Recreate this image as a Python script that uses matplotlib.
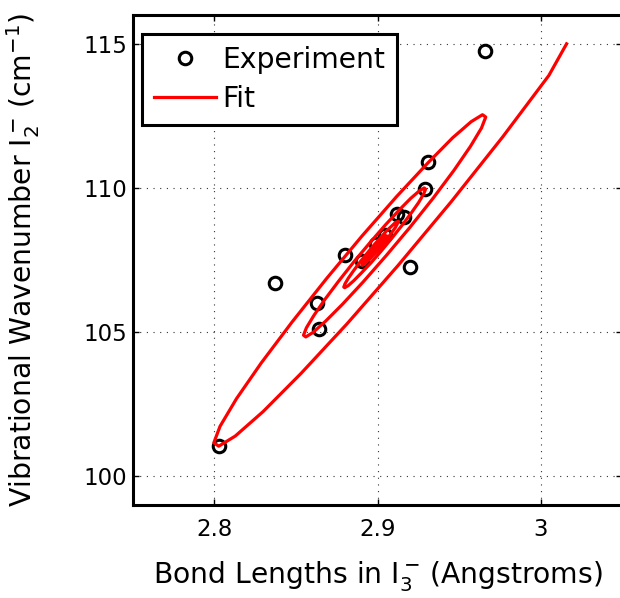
import matplotlib
matplotlib.use("Agg")
import matplotlib.pyplot as plt

# measured bond lengths (Angstroms) and I2- wavenumbers (cm^-1)
bond_length = [2.966, 2.931, 2.929, 2.912, 2.916, 2.9045, 2.899, 2.880,
               2.8905, 2.9198, 2.837, 2.863, 2.864, 2.803]
wavenumber = [114.76, 110.90, 109.95, 109.09, 108.99, 108.37, 108.05, 107.68,
              107.46, 107.24, 106.71, 106.02, 105.09, 101.06]

# fitted trajectory, spiralling in towards (2.90, 107.9)
fit_x = [3.0160, 3.0051, 2.9768, 2.9452, 2.9126, 2.8812, 2.8530, 2.8298, 2.8127, 2.8026,
         2.7996, 2.8034, 2.8135, 2.8287, 2.8476, 2.8688, 2.8906, 2.9117, 2.9306, 2.9461,
         2.9575, 2.9644, 2.9664, 2.9638, 2.9570, 2.9469, 2.9342, 2.9200, 2.9053, 2.8912,
         2.8786, 2.8682, 2.8605, 2.8560, 2.8546, 2.8564, 2.8609, 2.8677, 2.8762, 2.8857,
         2.8955, 2.9049, 2.9134, 2.9204, 2.9255, 2.9286, 2.9295, 2.9283, 2.9253, 2.9207,
         2.9150, 2.9087, 2.9021, 2.8958, 2.8901, 2.8854, 2.8820, 2.8799, 2.8793, 2.8801,
         2.8821, 2.8852, 2.8890, 2.8933, 2.8977, 2.9019, 2.9057, 2.9112, 2.9129, 2.9110,
         2.9064, 2.9006, 2.8952, 2.8916, 2.8904, 2.8917, 2.8948, 2.8987, 2.9023, 2.9047,
         2.9055, 2.9047, 2.9026, 2.9000, 2.8976, 2.8959, 2.8954, 2.8960, 2.8973, 2.8991,
         2.9007, 2.9018, 2.9022, 2.9018, 2.9009, 2.8997, 2.8986, 2.8979, 2.8976]
fit_y = [115.00, 113.90, 111.77, 109.52, 107.31, 105.28, 103.56, 102.24, 101.39, 101.04,
         101.16, 101.73, 102.69, 103.93, 105.35, 106.86, 108.34, 109.70, 110.85, 111.74,
         112.30, 112.54, 112.46, 112.08, 111.44, 110.61, 109.65, 108.64, 107.65, 106.74,
         105.97, 105.38, 104.99, 104.83, 104.89, 105.15, 105.57, 106.13, 106.77, 107.45,
         108.11, 108.72, 109.24, 109.64, 109.89, 110.00, 109.96, 109.79, 109.50, 109.13,
         108.70, 108.25, 107.80, 107.39, 107.05, 106.78, 106.61, 106.54, 106.56, 106.68,
         106.87, 107.12, 107.41, 107.71, 108.01, 108.28, 108.52, 108.81, 108.84, 108.63,
         108.27, 107.87, 107.53, 107.34, 107.32, 107.45, 107.69, 107.96, 108.19, 108.32,
         108.34, 108.24, 108.08, 107.90, 107.75, 107.66, 107.65, 107.71, 107.82, 107.94,
         108.05, 108.10, 108.11, 108.07, 108.00, 107.92, 107.85, 107.81, 107.80]

x_ticks = [2.8, 2.9, 3.0]
x_ticklabels = ["2.8", "2.9", "3"]
y_ticks = [100, 105, 110, 115]

fig = plt.figure(figsize=(6.2, 5.98), dpi=100)
# right edge of the axes sits just past the figure edge
ax = fig.add_axes([133 / 620, 1 - 505 / 598, (622 - 133) / 620, (505 - 15) / 598])

ax.plot(bond_length, wavenumber, "o", mfc="none", mec="k", mew=2.2, ms=9, label="Experiment")
ax.plot(fit_x, fit_y, "-", color="red", lw=2.3, label="Fit")

ax.set_xlim(2.75, 3.05)
ax.set_ylim(99, 116)
ax.set_xticks(x_ticks)
ax.set_xticklabels(x_ticklabels)
ax.set_yticks(y_ticks)
ax.grid(True, color="0.2", linestyle=(0, (1, 5)), linewidth=0.8)
ax.tick_params(direction="in", length=4, width=1, top=True, right=True, labelsize=16.5)
ax.tick_params(axis="x", pad=9)
ax.tick_params(axis="y", pad=4)
for sp in ax.spines.values():
    sp.set_linewidth(2.2)

ax.set_xlabel(r"Bond Lengths in I$_3^-\,$(Angstroms)", fontsize=20.3, labelpad=13)
ax.set_ylabel(r"Vibrational Wavenumber I$_2^-\,$(cm$^{-1}$)", fontsize=20.3, labelpad=30)

leg = ax.legend(loc="upper left", bbox_to_anchor=(0.0178, 0.9606), borderaxespad=0,
                fontsize=20.3, fancybox=False, edgecolor="k", framealpha=1,
                handlelength=2.2, handletextpad=0.23, borderpad=0.42, labelspacing=0.38)
leg.get_frame().set_linewidth(2.2)

fig.savefig("out.png", dpi=100)
